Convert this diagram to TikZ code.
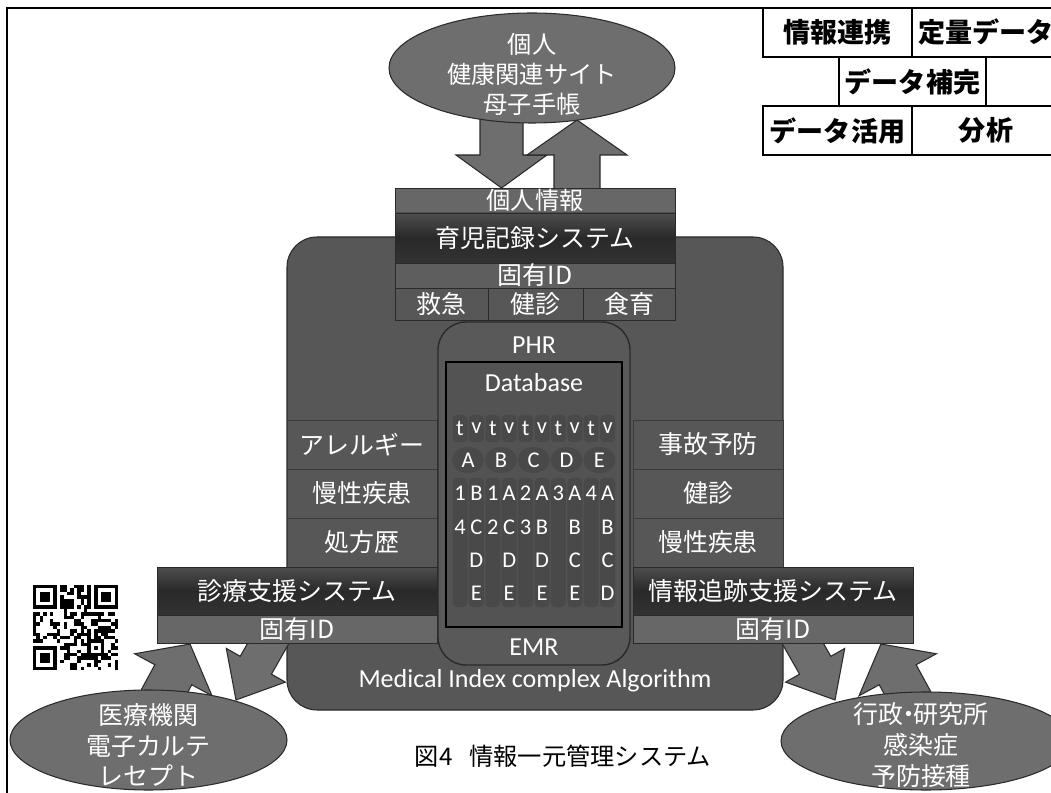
\documentclass[tikz,border=0pt]{standalone}
\usepackage{fontspec}
\setmainfont{Carlito}
\newfontfamily\jp{Noto Sans CJK JP}
\usetikzlibrary{shapes.geometric}
\definecolor{bodyg}{HTML}{575757}
\definecolor{ellg}{HTML}{6E6E6E}
\definecolor{midg}{HTML}{676767}
\definecolor{rowg}{HTML}{5E5E5E}
\definecolor{edgeg}{HTML}{2A2A2A}
\definecolor{phrg}{HTML}{595959}
\definecolor{dbg}{HTML}{535353}
\definecolor{cellg}{HTML}{494949}
\definecolor{bandtop}{HTML}{4E4E4E}
\definecolor{bandmid}{HTML}{292929}
\definecolor{bandbot}{HTML}{333333}
\definecolor{sepg}{HTML}{3A3A3A}
\tikzset{
  sz/.style 2 args={minimum width=#1*0.02cm, minimum height=#2*0.02cm},
  wj/.style={text=white, font=\jp\fontsize{14.2}{17.6}\selectfont, inner sep=0pt, align=center},
  wjs/.style={text=white, font=\jp\fontsize{13.8}{17.1}\selectfont, inner sep=0pt, align=center},
  wl/.style={text=white, font=\fontsize{14.8}{17}\selectfont, inner sep=0pt},
  wg/.style={text=white, font=\fontsize{12.8}{14}\selectfont, inner sep=0pt},
  tabcell/.style={draw=black, line width=1pt, inner sep=0pt, font=\jp\bfseries\fontsize{15.4}{18}\selectfont},
  blob/.style={ellipse, fill=ellg, draw=edgeg, line width=0.6pt, inner sep=0pt},
  blockarrow/.style={fill=ellg, draw=edgeg, line width=0.6pt},
  band/.style={top color=bandtop, bottom color=bandbot, middle color=bandmid, draw=edgeg, line width=0.4pt, inner sep=0pt},
  plainrow/.style={fill=#1, draw=edgeg, line width=0.4pt, inner sep=0pt},
  siderow/.style={fill=bodyg, draw=sepg, line width=0.5pt, inner sep=0pt},
  gridcell/.style={fill=cellg, rounded corners=0.08cm},
}
\begin{document}
\begin{tikzpicture}[x=0.02cm, y=-0.02cm]
\useasboundingbox (0,0) rectangle (1051,793);
\clip (0,0) rectangle (1051,793);

% frame
\draw[line width=0.7pt] (7,793) -- (7,8) -- (763,8);

% table
\node[tabcell, sz={149}{49}] (t1) at (837.5,32.5) {情報連携};
\node[tabcell, sz={148}{49}] (t2) at (986,32.5) {定量データ};
\node[tabcell, sz={147}{49}] (t3) at (912.5,81.5) {データ補完};
\node[tabcell, sz={149}{49}] (t4) at (837.5,130.5) {データ活用};
\node[tabcell, sz={148}{49}] (t5) at (986,130.5) {分析};

% top arrows
\path[blockarrow] (480,100) -- (523,100) -- (523,155) -- (547,155) -- (501.5,188) -- (456,155) -- (480,155) -- cycle;
\path[blockarrow] (554,190) -- (554,155) -- (527,155) -- (577,120) -- (627,155) -- (600,155) -- (600,190) -- cycle;

% top ellipse
\node[blob, sz={286}{110}] (topell) at (532,68) {};
\node[wjs] (toptext) at (532,74) {個人\\健康関連サイト\\母子手帳};

% main body
\node[draw=edgeg, fill=bodyg, line width=0.6pt, rounded corners=0.6cm, sz={496}{473}] (body) at (535,473.5) {};

% side rows
\node[siderow, sz={150}{49}, wj] (la) at (362,444.5) {アレルギー};
\node[siderow, sz={150}{49}, wj] (lb) at (362,493.5) {慢性疾患};
\node[siderow, sz={150}{49}, wj] (lc) at (362,542.5) {処方歴};
\node[siderow, sz={150}{49}, wj] (ra) at (708,444.5) {事故予防};
\node[siderow, sz={150}{49}, wj] (rb) at (708,493.5) {健診};
\node[siderow, sz={150}{49}, wj] (rc) at (708,542.5) {慢性疾患};

% top box
\node[plainrow=midg, sz={280}{25}, wjs] (kojin) at (535,200.5) {個人情報};
\node[band, sz={280}{50}, wj] (ikuji) at (535,238) {育児記録システム};
\node[plainrow=rowg, sz={280}{25}, wj] (id1) at (535,275.5) {固有ID};
\node[plainrow=bodyg, sz={93}{32}, wj] (kyu) at (441.5,304) {救急};
\node[plainrow=bodyg, sz={95}{32}, wj] (ken) at (535.5,304) {健診};
\node[plainrow=bodyg, sz={92}{32}, wj] (shoku) at (629,304) {食育};

% PHR
\node[fill=phrg, draw=edgeg, line width=0.8pt, rounded corners=0.56cm, sz={192}{343}] (phr) at (534,493.5) {};
\node[wl] (phrt) at (534,345) {PHR};
\node[wl] (emrt) at (534,647) {EMR};
\node[fill=dbg, draw=black, line width=1.5pt, sz={176}{265}] (db) at (534,494.5) {};
\node[wl] (dbt) at (534,383) {Database};

% grid backgrounds
\foreach \c in {1,...,10}{
  \path[gridcell] ({443.6+16.4*\c-7.5},415) rectangle ++(15,27);
  \path[gridcell] ({443.6+16.4*\c-7.5},478) rectangle ++(15,129);
}
\foreach \c in {1,...,5}{
  \path[fill=cellg] ({435.3+32.8*\c},460) ellipse (16 and 13);
}
% grid letters
\foreach \ch [count=\c] in {t,v,t,v,t,v,t,v,t,v}
  \node[wg] (ga\c) at ({443.6+16.4*\c},428) {\ch};
\foreach \ch [count=\c] in {A,B,C,D,E}
  \node[wg] (gb\c) at ({435.3+32.8*\c},460) {\ch};
\foreach \ch [count=\c] in {1,B,1,A,2,A,3,A,4,A}
  \node[wg] (gc\c) at ({443.6+16.4*\c},493) {\ch};
\foreach \ch/\c in {4/1,C/2,2/3,C/4,3/5,B/6,B/8,B/10}
  \node[wg] (gd\c) at ({443.6+16.4*\c},527) {\ch};
\foreach \ch/\c in {D/2,D/4,D/6,C/8,C/10}
  \node[wg] (ge\c) at ({443.6+16.4*\c},560) {\ch};
\foreach \ch/\c in {E/2,E/4,E/6,E/8,D/10}
  \node[wg] (gf\c) at ({443.6+16.4*\c},593) {\ch};

\node[wl] (mica) at (535,681) {Medical Index complex Algorithm};

% bottom arrows (up: ellipse -> box; down: box -> ellipse)
\begin{scope}[shift={(190,644)}, rotate=61.5]
  \path[blockarrow] (0,0) -- (-35,44) -- (-35,21) -- (-110,21) -- (-110,-21) -- (-35,-21) -- (-35,-44) -- cycle;
\end{scope}
\begin{scope}[shift={(236,700)}, rotate=240.3]
  \path[blockarrow] (0,0) -- (-40,34) -- (-40,18) -- (-120,18) -- (-120,-18) -- (-40,-18) -- (-40,-34) -- cycle;
\end{scope}
\begin{scope}[shift={(881,644)}, rotate=118.5]
  \path[blockarrow] (0,0) -- (-35,44) -- (-35,21) -- (-110,21) -- (-110,-21) -- (-35,-21) -- (-35,-44) -- cycle;
\end{scope}
\begin{scope}[shift={(835,700)}, rotate=-60.3]
  \path[blockarrow] (0,0) -- (-40,34) -- (-40,18) -- (-120,18) -- (-120,-18) -- (-40,-18) -- (-40,-34) -- cycle;
\end{scope}

% side boxes
\node[band, sz={280}{48}, wj] (shinryo) at (297,591) {診療支援システム};
\node[plainrow=midg, sz={280}{28}, wj] (id2) at (297,629) {固有ID};
\node[band, sz={280}{48}, wj] (tsuiseki) at (773,591) {情報追跡支援システム};
\node[plainrow=midg, sz={280}{28}, wj] (id3) at (773,629) {固有ID};

% bottom ellipses
\node[blob, sz={277}{100}] (lell) at (148.5,740) {};
\node[wj] (ltext) at (148.5,745) {医療機関\\電子カルテ\\レセプト};
\node[blob, sz={290}{98}] (rell) at (926,741) {};
\node[wj] (rtext) at (921,745) {行政\kern-0.3em・\kern-0.3em研究所\\感染症\\予防接種};

% caption
\node[inner sep=0pt, font=\jp\fontsize{13.8}{17}\selectfont] (cap) at (563,756) {図4\hspace{0.7em}情報一元管理システム};

% QR code
\begin{scope}[shift={(33,585)}, x=0.068cm, y=-0.068cm]
  \pgfmathsetseed{4242}
  \foreach \i in {0,...,24}{\foreach \j in {0,...,24}{
    \pgfmathtruncatemacro\qb{rnd<0.5?1:0}
    \ifnum\qb=1 \fill (\i,\j) rectangle ++(1,1);\fi}}
  \foreach \fx/\fy/\wx/\wy in {0/0/0/0,18/0/17/0,0/18/0/17}{
    \fill[white] (\wx,\wy) rectangle ++(8,8);
    \fill (\fx,\fy) rectangle ++(7,7);
    \fill[white] (\fx+1,\fy+1) rectangle ++(5,5);
    \fill (\fx+2,\fy+2) rectangle ++(3,3);
  }
  \fill (16,16) rectangle ++(5,5);
  \fill[white] (17,17) rectangle ++(3,3);
  \fill (18,18) rectangle ++(1,1);
\end{scope}
\end{tikzpicture}
\end{document}
